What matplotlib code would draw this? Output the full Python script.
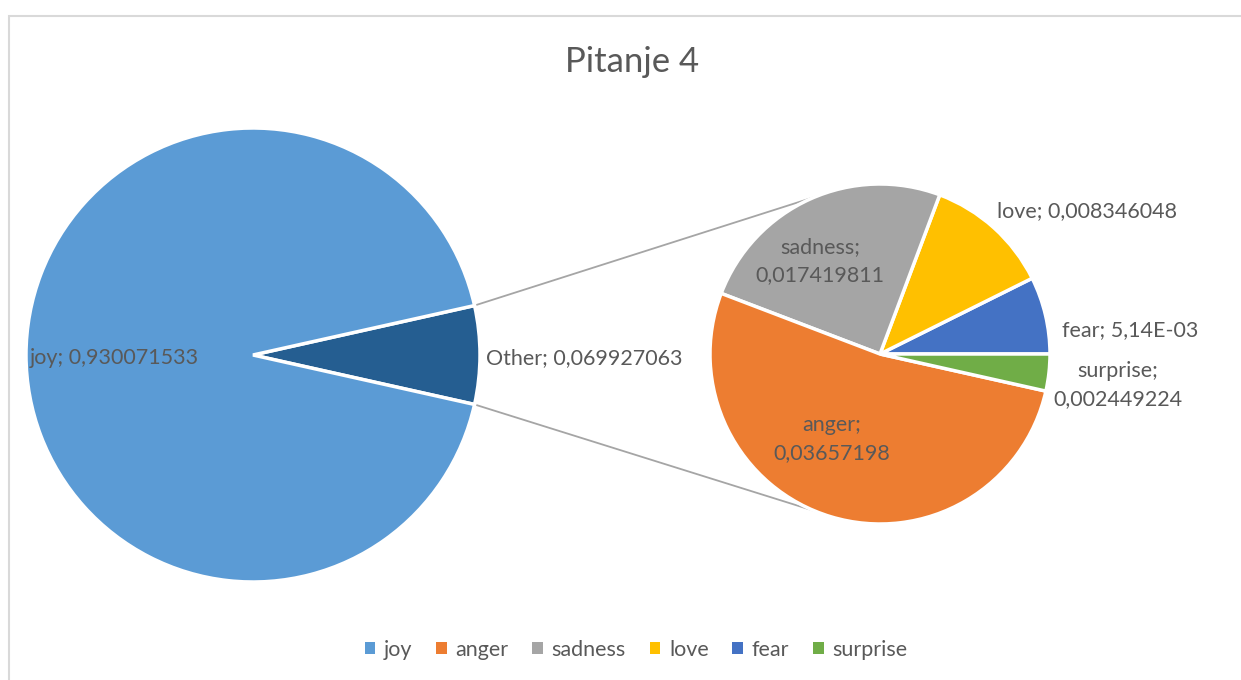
import numpy as np
import matplotlib.pyplot as plt
from matplotlib.patches import Patch, Rectangle

plt.rcParams['font.family'] = ['Lato', 'DejaVu Sans']

# data
main_labels = ['joy', 'Other']
main_values = [0.930071533, 0.069927063]
sub_labels = ['fear', 'love', 'sadness', 'anger', 'surprise']
sub_values = [0.00514, 0.008346048, 0.017419811, 0.03657198, 0.002449224]
sub_text = ['5,14E-03', '0,008346048', '0,017419811', '0,03657198', '0,002449224']
legend_names = ['joy', 'anger', 'sadness', 'love', 'fear', 'surprise']

colors = {'joy': '#5B9BD5', 'Other': '#255E91', 'anger': '#ED7D31',
          'sadness': '#A5A5A5', 'love': '#FFC000', 'fear': '#4472C4',
          'surprise': '#70AD47'}
txt = '#595959'

W, H = 1241, 680
fig = plt.figure(figsize=(W / 100, H / 100), dpi=100)
ax = fig.add_axes([0, 0, 1, 1])

def py(y):
    return H - y

# chart border
ax.add_patch(Rectangle((9, -20), W + 40, py(16) + 20, fill=False,
                       edgecolor='#D9D9D9', lw=1.5, clip_on=False))

# main pie, "Other" centred on the right
c1, r1 = (253, py(355)), 227
half = main_values[1] / sum(main_values) * 360 / 2
w1, _ = ax.pie(main_values[::-1], colors=[colors['Other'], colors['joy']],
               startangle=-half, center=c1, radius=r1, frame=True,
               wedgeprops=dict(edgecolor='white', linewidth=2.5))

# second pie
c2, r2 = (880, py(354)), 170
w2, _ = ax.pie(sub_values, colors=[colors[k] for k in sub_labels],
               startangle=0, center=c2, radius=r2, frame=True,
               wedgeprops=dict(edgecolor='white', linewidth=2.5))
ax.set_xlim(0, W)
ax.set_ylim(0, H)
ax.set_aspect('equal')
ax.axis('off')

# connector lines
for a1, a2 in [(w1[0].theta2, 112.5), (w1[0].theta1, -112.5)]:
    t1, t2 = np.radians(a1), np.radians(a2)
    ax.plot([c1[0] + r1 * np.cos(t1), c2[0] + r2 * np.cos(t2)],
            [c1[1] + r1 * np.sin(t1), c2[1] + r2 * np.sin(t2)],
            color='#A5A5A5', lw=1.3, zorder=0)

fs = 15.5
ls = 1.55
ax.text(114, py(358), 'joy; 0,930071533', ha='center', va='center', fontsize=fs, color=txt)
ax.text(486, py(358), 'Other; 0,069927063', ha='left', va='center', fontsize=fs, color=txt)
ax.text(820, py(261), 'sadness;\n' + sub_text[2], ha='center', va='center', fontsize=fs,
        color=txt, linespacing=ls)
ax.text(997, py(211), 'love; ' + sub_text[1], ha='left', va='center', fontsize=fs, color=txt)
ax.text(1062, py(330), 'fear; ' + sub_text[0], ha='left', va='center', fontsize=fs, color=txt)
ax.text(1118, py(385), 'surprise;\n' + sub_text[4], ha='center', va='center', fontsize=fs,
        color=txt, linespacing=ls)
ax.text(832, py(439), 'anger;\n' + sub_text[3], ha='center', va='center', fontsize=fs,
        color=txt, linespacing=ls)

ax.text(632, py(62), 'Pitanje 4', ha='center', va='center', fontsize=25, color=txt)

handles = [Patch(facecolor=colors[k], edgecolor='none') for k in legend_names]
fig.legend(handles, legend_names, loc='center', bbox_to_anchor=(636 / W, 1 - 650 / H),
           ncol=6, frameon=False, fontsize=fs, handlelength=0.5, handleheight=0.5,
           handletextpad=0.4, columnspacing=1.1, labelcolor=txt)

fig.savefig('out.png', dpi=100)
